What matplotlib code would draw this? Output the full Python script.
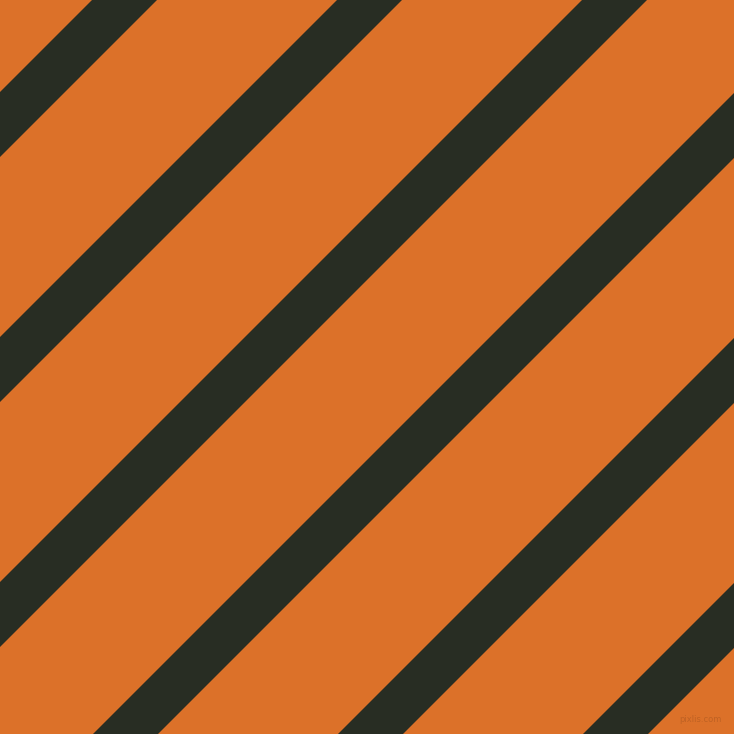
import matplotlib
matplotlib.use("Agg")
import matplotlib.pyplot as plt

# stripe positions, measured as x + y (pixels from top-left corner)
stripe_starts = [92, 337, 582, 827, 1072, 1317]
stripe_width = 65
size = 734

bg_color = "#DC7129"
stripe_color = "#282D23"

fig = plt.figure(figsize=(size / 100, size / 100), dpi=100)
ax = fig.add_axes([0, 0, 1, 1])
ax.set_xlim(0, size)
ax.set_ylim(size, 0)
ax.set_facecolor(bg_color)
ax.axis("off")
fig.patch.set_facecolor(bg_color)

for s in stripe_starts:
    e = s + stripe_width
    # band between lines x + y = s and x + y = e
    xs = [s, e, e - 2 * size, s - 2 * size]
    ys = [0, 0, 2 * size, 2 * size]
    ax.fill(xs, ys, color=stripe_color, linewidth=0)

ax.text(722, 720, "pixlis.com", fontsize=6, color="#B85E22", alpha=0.8,
        ha="right", va="center")

fig.savefig("out.png", dpi=100, facecolor=bg_color)
